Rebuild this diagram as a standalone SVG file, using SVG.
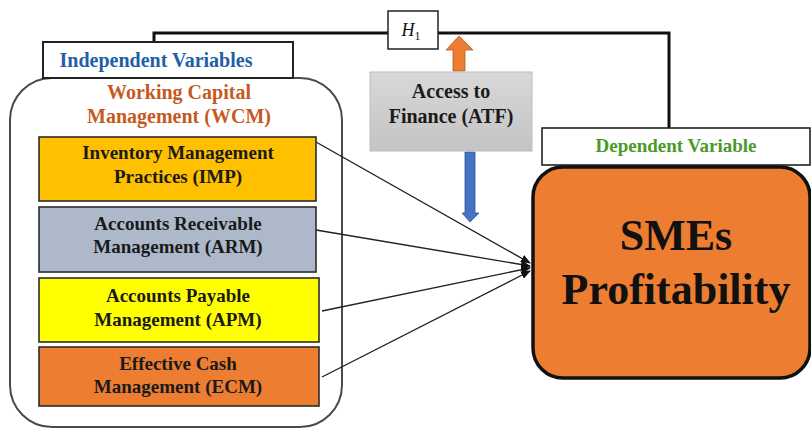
<svg xmlns="http://www.w3.org/2000/svg" width="811" height="430" viewBox="0 0 811 430">
<style>
.t{font-family:"Liberation Serif","Times New Roman",serif;font-weight:bold;text-anchor:middle;fill:#1a1a1a}
.box{stroke:#2b2b2b;stroke-width:1.6}
.conn{fill:none;stroke:#222;stroke-width:1.4}
</style>
<defs>
<marker id="ah" markerWidth="10" markerHeight="8" refX="9" refY="4" orient="auto" markerUnits="userSpaceOnUse">
<path d="M0,0 L10,4 L0,8 z" fill="#111"/>
</marker>
<linearGradient id="gg" x1="0" y1="0" x2="0" y2="1">
<stop offset="0" stop-color="#d8d8d8"/>
<stop offset="1" stop-color="#c4c4c4"/>
</linearGradient>
</defs>
<rect width="811" height="430" fill="#fff"/>

<g id="wcm-container">
<rect x="10" y="78" width="332" height="349" rx="42" fill="#fff" stroke="#4a4a4a" stroke-width="2"/>
<text class="t" x="179" y="99" font-size="20" style="fill:#c65a1e">Working Capital</text>
<text class="t" x="179" y="123" font-size="20" style="fill:#c65a1e">Management (WCM)</text>
</g>

<g id="connectors">
<polyline points="154,42 154,33 388,33" fill="none" stroke="#111" stroke-width="3"/>
<polyline points="438,33 669,33 669,128" fill="none" stroke="#111" stroke-width="3"/>
<line class="conn" x1="316" y1="142" x2="530" y2="263" marker-end="url(#ah)"/>
<line class="conn" x1="316" y1="230" x2="530" y2="266" marker-end="url(#ah)"/>
<line class="conn" x1="322" y1="311" x2="530" y2="268" marker-end="url(#ah)"/>
<line class="conn" x1="322" y1="377" x2="530" y2="271" marker-end="url(#ah)"/>
<polygon points="453,71 465,71 465,50 473,50 459,36 446,50 453,50" fill="#ed7d31" stroke="#b85a1c" stroke-width="0.8"/>
<polygon points="465,152 475,152 475,213 479,213 470,222 462,213 465,213" fill="#4472c4" stroke="#2f5597" stroke-width="0.8"/>
</g>

<g id="independent-label">
<rect x="43" y="42" width="250" height="36" fill="#fff" stroke="#222" stroke-width="2"/>
<text class="t" x="156" y="67" font-size="20" style="fill:#1f5fa8">Independent Variables</text>
</g>

<g id="h1">
<rect x="388" y="11" width="50" height="38" fill="#fff" stroke="#222" stroke-width="1.5"/>
<text x="411" y="36" font-family="Liberation Serif, serif" font-style="italic" font-size="18" text-anchor="middle" fill="#111">H<tspan font-size="12" dy="4" font-style="normal">1</tspan></text>
</g>

<g id="imp">
<rect class="box" x="39" y="137" width="277" height="64" fill="#ffc000"/>
<text class="t" x="178" y="159" font-size="19">Inventory Management</text>
<text class="t" x="178" y="183" font-size="19">Practices (IMP)</text>
</g>

<g id="arm">
<rect class="box" x="39" y="207" width="277" height="65" fill="#adb9ca"/>
<text class="t" x="178" y="230" font-size="19">Accounts Receivable</text>
<text class="t" x="178" y="253" font-size="19">Management (ARM)</text>
</g>

<g id="apm">
<rect class="box" x="39" y="278" width="280" height="64" fill="#ffff00"/>
<text class="t" x="178" y="302" font-size="19">Accounts Payable</text>
<text class="t" x="178" y="326" font-size="19">Management (APM)</text>
</g>

<g id="ecm">
<rect class="box" x="39" y="347" width="280" height="59" fill="#ed7d31"/>
<text class="t" x="178" y="370" font-size="19">Effective Cash</text>
<text class="t" x="178" y="393" font-size="19">Management (ECM)</text>
</g>

<g id="atf">
<rect x="370" y="72" width="162" height="79" fill="url(#gg)" stroke="#bdbdbd" stroke-width="1"/>
<text class="t" x="451" y="98" font-size="20">Access to</text>
<text class="t" x="451" y="123" font-size="20">Finance (ATF)</text>
</g>

<g id="dependent-label">
<rect x="542" y="128" width="268" height="37" fill="#fff" stroke="#222" stroke-width="1.6"/>
<text class="t" x="676" y="152" font-size="19" style="fill:#4a9a2a">Dependent Variable</text>
</g>

<g id="smes">
<rect x="533" y="167" width="277" height="211" rx="30" fill="#ed7d31" stroke="#111" stroke-width="3.5"/>
<text class="t" x="676" y="250" font-size="44" style="fill:#111">SMEs</text>
<text class="t" x="676" y="304" font-size="44" style="fill:#111">Profitability</text>
</g>
</svg>
